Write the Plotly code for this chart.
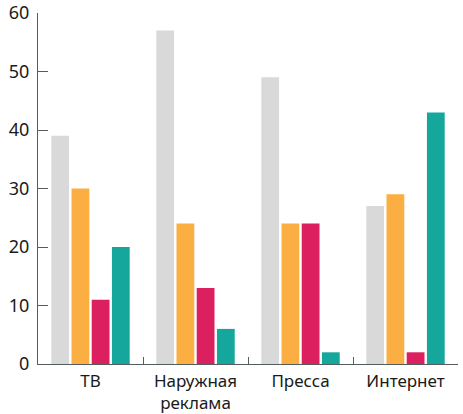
import plotly.graph_objects as go

categories = ["ТВ", "Наружная<br>реклама", "Пресса", "Интернет"]
series_a = [39, 57, 49, 27]
series_b = [30, 24, 24, 29]
series_c = [11, 13, 24, 2]
series_d = [20, 6, 2, 43]
colors = ["#d9d9d9", "#fbae42", "#dc1f5e", "#15a79b"]
y_ticks = [0, 10, 20, 30, 40, 50, 60]

fig = go.Figure()
for vals, col in zip([series_a, series_b, series_c, series_d], colors):
    fig.add_trace(go.Bar(x=categories, y=vals, marker=dict(color=col, line=dict(width=0)),
                         showlegend=False))

fig.update_layout(
    width=463, height=414,
    margin=dict(l=38, r=5, t=13, b=50, autoexpand=False),
    barmode="group", bargap=0.23, bargroupgap=0.12,
    plot_bgcolor="white", paper_bgcolor="white",
    font=dict(family="Noto Sans", size=17, color="#1a1a1a"),
)
fig.update_xaxes(
    showline=True, linecolor="#555e5e", linewidth=1.2, automargin=False,
    ticks="inside", ticklen=7, tickcolor="#555e5e", tickson="boundaries",
    showgrid=False, tickfont=dict(size=17), ticklabelstandoff=1,
)
fig.update_yaxes(
    range=[0, 60], tickvals=y_ticks, showline=True, linecolor="#555e5e", linewidth=1.2,
    automargin=False, ticks="inside", ticklen=10, tickcolor="#555e5e",
    showgrid=False, zeroline=False, tickfont=dict(size=18), ticklabelstandoff=4,
)
fig.write_html("out.html")
